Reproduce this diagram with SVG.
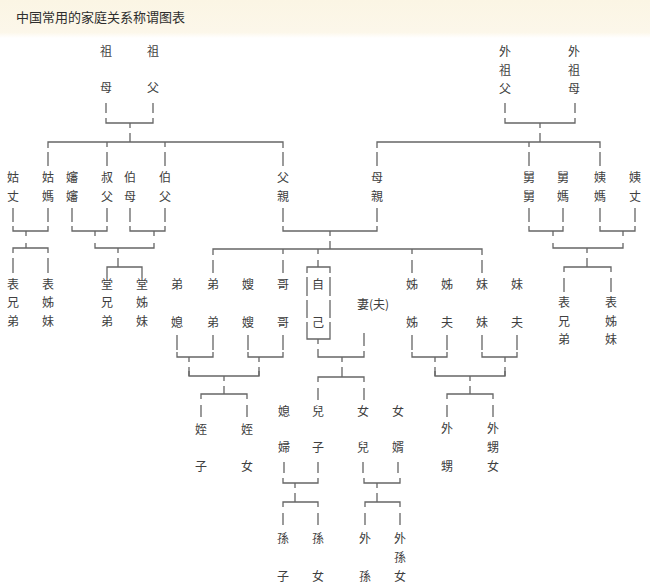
<svg xmlns="http://www.w3.org/2000/svg" width="650" height="587" viewBox="0 0 650 587">
<defs>
<linearGradient id="hdr" x1="0" y1="0" x2="0" y2="1">
<stop offset="0" stop-color="#fbf5e4"/>
<stop offset="0.85" stop-color="#fcf7ea"/>
<stop offset="1" stop-color="#ffffff"/>
</linearGradient>
</defs>
<style>
text{font-family:"Noto Sans CJK TC","Noto Sans CJK SC",sans-serif;font-size:12px;fill:#404040;text-anchor:middle}
.title{font-family:"Noto Sans CJK SC",sans-serif;font-size:13px;fill:#2e2e2e;text-anchor:start}
.c{stroke:#666666;stroke-width:1.3;fill:none}
</style>
<rect x="0" y="0" width="650" height="587" fill="#ffffff"/>
<rect x="0" y="0" width="650" height="38" fill="url(#hdr)"/>
<text class="title" x="16" y="22">中国常用的家庭关系称谓图表</text>

<g id="connectors" class="c">
<path d="M106,103V113 M153,103V113 M505,103V113 M575,103V113"/>
<path d="M106,118V123H153V118 M130,123V128 M130,133V142"/>
<path d="M505,118V123H575V118 M540,123V128 M540,133V142"/>
<path d="M48,148V142H283V148 M107,142V147 M165,142V147"/>
<path d="M377,148V142H600V148 M529,142V147"/>
<path d="M48,152V166 M107,152V166 M165,152V166 M283,152V166 M377,152V166 M529,152V166 M600,152V166"/>
<path d="M13,208V222 M48,208V222 M72,208V222 M107,208V222 M130,208V222 M165,208V222 M283,208V222 M377,208V222 M529,208V222 M563,208V222 M600,208V222 M635,208V222"/>
<path d="M13,226V231H48V226 M26,231V236"/>
<path d="M26,243V248 M13,253V248H48V253 M13,258V273 M48,258V273"/>
<path d="M72,226V231H107V226 M95,231V236 M130,226V231H165V226 M154,231V236"/>
<path d="M95,243V248H154V243 M118,248V253 M118,258V267 M107,278V267H142V278"/>
<path d="M529,226V231H563V226 M553,231V236 M600,226V231H635V226 M623,231V236"/>
<path d="M553,243V248H623V243 M587,248V253 M587,258V267 M564,272V267H611V272 M564,278V292 M611,278V292"/>
<path d="M283,226V231H377V226 M330,231V236 M330,241V249"/>
<path d="M213,255V249H482V255 M283,249V254 M318,249V254 M412,249V254"/>
<path d="M213,260V273 M283,260V273 M412,260V273 M482,260V273 M318,260V267"/>
<path d="M307,273V267H330V273 M307,277V296 M307,300V318 M307,322V334 M330,277V296 M330,300V318 M330,322V334 M307,334V339H330V334 M318,339V344"/>
<path d="M177,335V350 M213,335V350 M248,335V350 M283,335V350 M412,335V350 M447,335V350 M482,335V350 M517,335V350 M364,333V346"/>
<path d="M177,352V357H213V352 M189,357V362 M189,367V376 M248,352V357H283V352 M259,357V362 M259,367V376"/>
<path d="M412,352V357H447V352 M435,357V362 M435,367V376 M482,352V357H517V352 M505,357V362 M505,367V376"/>
<path d="M318,349V357H364V351 M342,357V362 M342,367V377 M318,382V377H364V382 M318,388V400 M364,388V400"/>
<path d="M189,371V376H259V371 M224,376V381 M224,386V394 M201,399V394H247V399 M201,405V417 M247,405V417"/>
<path d="M435,371V376H505V371 M470,376V381 M470,386V394 M447,399V394H493V399 M447,405V417 M493,405V417"/>
<path d="M284,462V473 M318,462V473 M363,462V473 M398,462V473"/>
<path d="M283,478V483H318V478 M295,483V488 M295,493V502 M283,507V502H318V507 M283,513V525 M318,513V525"/>
<path d="M364,478V483H400V478 M377,483V488 M377,493V502 M365,507V502H400V507 M365,513V525 M400,513V525"/>
</g>

<g id="zumu"><text x="106" y="56">祖</text><text x="106" y="92">母</text></g>
<g id="zufu"><text x="153" y="56">祖</text><text x="153" y="92">父</text></g>
<g id="waizufu"><text x="505" y="56">外</text><text x="505" y="75">祖</text><text x="505" y="93">父</text></g>
<g id="waizumu"><text x="574" y="56">外</text><text x="574" y="75">祖</text><text x="574" y="93">母</text></g>

<g id="guzhang"><text x="13" y="182">姑</text><text x="13" y="201">丈</text></g>
<g id="guma"><text x="48" y="182">姑</text><text x="48" y="201">媽</text></g>
<g id="shenshen"><text x="72" y="182">嬸</text><text x="72" y="201">嬸</text></g>
<g id="shufu"><text x="107" y="182">叔</text><text x="107" y="201">父</text></g>
<g id="bomu"><text x="130" y="182">伯</text><text x="130" y="201">母</text></g>
<g id="bofu"><text x="165" y="182">伯</text><text x="165" y="201">父</text></g>
<g id="fuqin"><text x="283" y="182">父</text><text x="283" y="201">親</text></g>
<g id="muqin"><text x="377" y="182">母</text><text x="377" y="201">親</text></g>
<g id="jiujiu"><text x="529" y="182">舅</text><text x="529" y="201">舅</text></g>
<g id="jiuma"><text x="563" y="182">舅</text><text x="563" y="201">媽</text></g>
<g id="yima"><text x="600" y="182">姨</text><text x="600" y="201">媽</text></g>
<g id="yizhang"><text x="635" y="182">姨</text><text x="635" y="201">丈</text></g>

<g id="biaoxiongdi-l"><text x="13" y="289">表</text><text x="13" y="307">兄</text><text x="13" y="326">弟</text></g>
<g id="biaozimei-l"><text x="48" y="289">表</text><text x="48" y="307">姊</text><text x="48" y="326">妹</text></g>
<g id="tangxiongdi"><text x="107" y="289">堂</text><text x="107" y="307">兄</text><text x="107" y="326">弟</text></g>
<g id="tangzimei"><text x="142" y="289">堂</text><text x="142" y="307">姊</text><text x="142" y="326">妹</text></g>
<g id="biaoxiongdi-r"><text x="564" y="307">表</text><text x="564" y="326">兄</text><text x="564" y="344">弟</text></g>
<g id="biaozimei-r"><text x="611" y="307">表</text><text x="611" y="326">姊</text><text x="611" y="344">妹</text></g>

<g id="dixi"><text x="177" y="289">弟</text><text x="177" y="327">媳</text></g>
<g id="didi"><text x="213" y="289">弟</text><text x="213" y="327">弟</text></g>
<g id="saosao"><text x="248" y="289">嫂</text><text x="248" y="327">嫂</text></g>
<g id="gege"><text x="283" y="289">哥</text><text x="283" y="327">哥</text></g>
<g id="ziji"><text x="318" y="289">自</text><text x="318" y="327">己</text></g>
<g id="qifu"><text x="373" y="309">妻(夫)</text></g>
<g id="jiejie"><text x="412" y="289">姊</text><text x="412" y="327">姊</text></g>
<g id="jiefu"><text x="447" y="289">姊</text><text x="447" y="327">夫</text></g>
<g id="meimei"><text x="482" y="289">妹</text><text x="482" y="327">妹</text></g>
<g id="meifu"><text x="517" y="289">妹</text><text x="517" y="327">夫</text></g>

<g id="zhizi"><text x="201" y="434">姪</text><text x="201" y="471">子</text></g>
<g id="zhinv"><text x="247" y="434">姪</text><text x="247" y="471">女</text></g>
<g id="xifu"><text x="284" y="416">媳</text><text x="284" y="452">婦</text></g>
<g id="erzi"><text x="318" y="416">兒</text><text x="318" y="452">子</text></g>
<g id="nver"><text x="363" y="416">女</text><text x="363" y="452">兒</text></g>
<g id="nvxu"><text x="398" y="416">女</text><text x="398" y="452">婿</text></g>
<g id="waisheng"><text x="447" y="433">外</text><text x="447" y="471">甥</text></g>
<g id="waishengnv"><text x="493" y="433">外</text><text x="493" y="452">甥</text><text x="493" y="471">女</text></g>

<g id="sunzi"><text x="283" y="543">孫</text><text x="283" y="581">子</text></g>
<g id="sunnv"><text x="318" y="543">孫</text><text x="318" y="581">女</text></g>
<g id="waisun"><text x="365" y="543">外</text><text x="365" y="581">孫</text></g>
<g id="waisunnv"><text x="400" y="543">外</text><text x="400" y="562">孫</text><text x="400" y="581">女</text></g>
</svg>
